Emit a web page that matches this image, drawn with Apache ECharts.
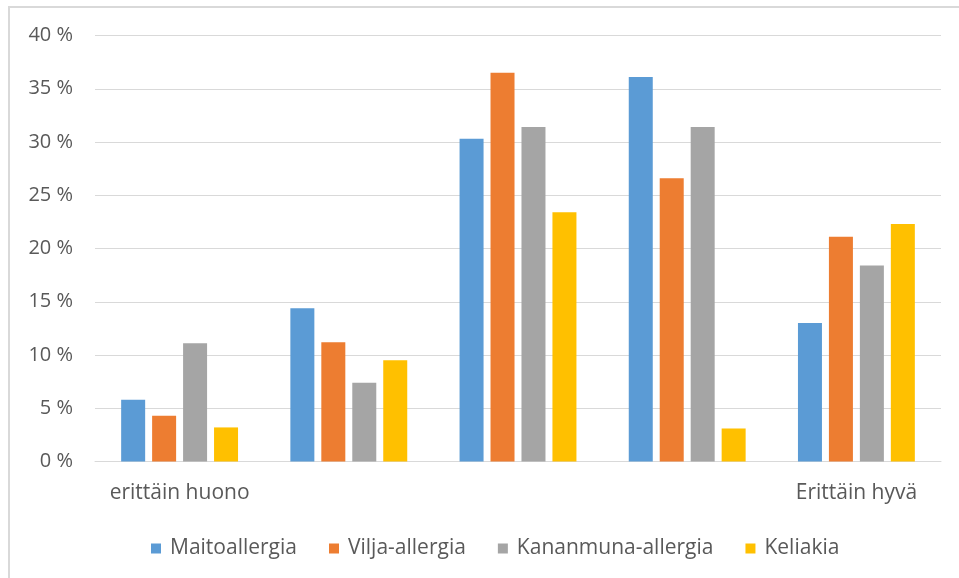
<!DOCTYPE html>
<html>
<head>
<meta charset="utf-8">
<script src="https://cdn.jsdelivr.net/npm/echarts@6/dist/echarts.min.js"></script>
<style>
  html, body { margin: 0; padding: 0; background: #fff; }
  .frame {
    position: absolute;
    left: 8px;
    top: 6px;
    width: 980px;
    height: 600px;
    border-top: 2px solid #d9d9d9;
    border-left: 2px solid #d9d9d9;
  }
  #chart { position: absolute; left: 0; top: 0; width: 959px; height: 578px; }
</style>
</head>
<body>
<div class="frame"></div>
<div id="chart"></div>
<script>
// luokat (vain ääripäät nimetty)
var categories = ["erittäin huono", "", "", "", "Erittäin hyvä"];
var seriesNames = ["Maitoallergia", "Vilja-allergia", "Kananmuna-allergia", "Keliakia"];
var maitoallergia = [5.8, 14.4, 30.3, 36.1, 13.0];
var viljaAllergia = [4.3, 11.2, 36.5, 26.6, 21.1];
var kananmunaAllergia = [11.1, 7.4, 31.4, 31.4, 18.4];
var keliakia = [3.2, 9.5, 23.4, 3.1, 22.3];
var colors = ["#5b9bd5", "#ed7d31", "#a5a5a5", "#ffc000"];

var textColor = "#595959";
var fontFamily = "'Open Sans', 'Noto Sans', sans-serif";

var myChart = echarts.init(document.getElementById("chart"));

function makeSeries(name, data, color) {
  return {
    name: name,
    type: "bar",
    barWidth: 24,
    barGap: "29%",
    itemStyle: {
      color: color,
    },
    data: data,
  };
}

var option = {
  animation: false,
  color: colors,
  textStyle: { fontFamily: fontFamily },
  grid: {
    left: 95,
    right: 18,
    top: 35.5,
    bottom: 116.5,
    containLabel: false,
  },
  legend: {
    show: true,
    top: 533,
    left: 146,
    itemWidth: 10,
    itemHeight: 10,
    itemGap: 32,
    icon: "rect",
    textStyle: {
      color: textColor,
      fontSize: 21,
      padding: [0, 0, 0, 4],
      fontFamily: fontFamily,
    },
    data: seriesNames,
  },
  xAxis: {
    type: "category",
    data: categories,
    axisLine: {
      show: true,
      lineStyle: { color: "#d9d9d9", width: 1 },
    },
    axisTick: { show: false },
    axisLabel: {
      color: textColor,
      fontSize: 21,
      margin: 21,
      interval: 0,
    },
  },
  yAxis: {
    type: "value",
    min: 0,
    max: 40,
    interval: 5,
    axisLine: { show: false },
    axisTick: { show: false },
    axisLabel: {
      color: textColor,
      fontSize: 20,
      margin: 22,
      formatter: function (v) {
        return v + " %";
      },
    },
    splitLine: {
      show: true,
      lineStyle: { color: "#d9d9d9", width: 1 },
    },
  },
  series: [
    makeSeries(seriesNames[0], maitoallergia, colors[0]),
    makeSeries(seriesNames[1], viljaAllergia, colors[1]),
    makeSeries(seriesNames[2], kananmunaAllergia, colors[2]),
    makeSeries(seriesNames[3], keliakia, colors[3]),
  ],
};

myChart.setOption(option);
</script>
</body>
</html>
